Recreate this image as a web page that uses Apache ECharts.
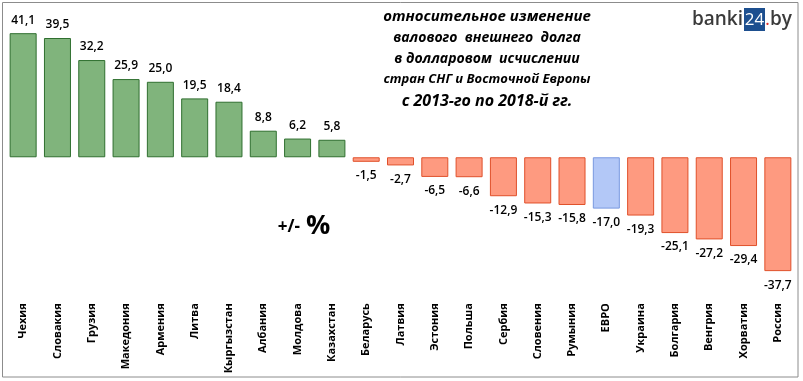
<!DOCTYPE html>
<html><head><meta charset="utf-8">
<script src="https://cdn.jsdelivr.net/npm/echarts@6/dist/echarts.min.js"></script>
<style>html,body{margin:0;padding:0;background:#fff}#c{width:803px;height:381px}</style>
</head><body><div id="c"></div>
<script>
const categories = ['Чехия','Словакия','Грузия','Македония','Армения','Литва','Кыргызстан','Албания','Молдова','Казахстан','Беларусь','Латвия','Эстония','Польша','Сербия','Словения','Румыния','ЕВРО','Украина','Болгария','Венгрия','Хорватия','Россия'];
const values = [41.1,39.5,32.2,25.9,25.0,19.5,18.4,8.8,6.2,5.8,-1.5,-2.7,-6.5,-6.6,-12.9,-15.3,-15.8,-17.0,-19.3,-25.1,-27.2,-29.4,-37.7];
const titleLines = ['относительное изменение','валового  внешнего  долга','в долларовом  исчислении','стран СНГ и Восточной Европы','с 2013-го по 2018-й гг.'];

const GREEN = {color:'#80b47c', borderColor:'#2f6f2f'};
const RED = {color:'#fe9a80', borderColor:'#e0502a'};
const BLUE = {color:'#b3c8f7', borderColor:'#7898e0'};
const fmt = v => v.toFixed(1).replace('.', ',');

const data = values.map((v,i) => {
  const st = categories[i]==='ЕВРО' ? BLUE : (v>=0 ? GREEN : RED);
  return {
    value: v,
    itemStyle: {color: st.color, borderColor: st.borderColor, borderWidth: 1},
    label: {position: v>=0 ? 'top' : 'bottom', distance: v>=0 ? 7 : 8}
  };
});

const chart = echarts.init(document.getElementById('c'));
const titleSizes = [15,14,14,13,16];
const titleY = [17,38,59,79,101];
const graphics = [
  {type:'rect', shape:{x:2.5,y:2.5,width:795.5,height:374.5}, style:{fill:'none', stroke:'#8c8c8c', lineWidth:1}, silent:true}
];
titleLines.forEach((t,i)=>{
  graphics.push({type:'text', x:487, y:titleY[i], style:{text:t, fontSize:titleSizes[i], fontWeight:'bold', fontStyle:'italic', fontFamily:'Open Sans', fill:'#000', align:'center', verticalAlign:'middle'}});
});
graphics.push({type:'text', x:300, y:236, style:{text:'+/-', fontSize:17, fontWeight:'bold', fontFamily:'Open Sans', fill:'#000', align:'right', verticalAlign:'bottom'}});
graphics.push({type:'text', x:306, y:240, style:{text:'%', fontSize:27, fontWeight:'bold', fontFamily:'Open Sans', fill:'#000', align:'left', verticalAlign:'bottom'}});
// logo
graphics.push({type:'text', x:743, y:20, style:{text:'banki', fontSize:19, fontFamily:'Open Sans', fontWeight:600, fill:'#3b3b3b', align:'right', verticalAlign:'middle'}});
graphics.push({type:'rect', shape:{x:744,y:8,width:21,height:23}, style:{fill:'#1d4f8f'}});
graphics.push({type:'text', x:754.5, y:20, style:{text:'24', fontSize:17, fontFamily:'Open Sans', fill:'#fff', align:'center', verticalAlign:'middle'}});
graphics.push({type:'text', x:765, y:20, style:{text:'.', fontSize:19, fontFamily:'Open Sans', fill:'#e0302a', align:'left', verticalAlign:'middle'}});
graphics.push({type:'text', x:770, y:20, style:{text:'by', fontSize:19, fontFamily:'Open Sans', fontWeight:600, fill:'#3b3b3b', align:'left', verticalAlign:'middle'}});

chart.setOption({
  animation:false,
  backgroundColor:'#fff',
  grid:{left:6, right:8, top:21.4, height:277.8},
  xAxis:{type:'category', data:categories,
    axisLine:{show:false, onZero:false}, axisTick:{show:false},
    axisLabel:{rotate:90, interval:0, margin:4, fontSize:11, fontWeight:'bold', fontFamily:'Open Sans', color:'#000'}},
  yAxis:{type:'value', min:-47, max:45, show:false, splitLine:{show:false}},
  series:[{type:'bar', data:data, barWidth:27,
    label:{show:true, formatter:p=>fmt(p.value), fontSize:12, fontFamily:'Open Sans', fontWeight:600, color:'#000'}}],
  graphic:graphics
});
</script></body></html>
